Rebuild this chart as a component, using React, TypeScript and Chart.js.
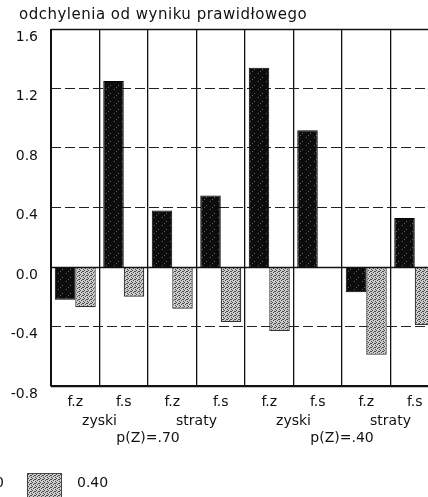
import React, { useEffect, useRef } from 'react';
import { Chart, registerables } from 'chart.js';

Chart.register(...registerables);

const TITLE = 'odchylenia od wyniku prawidłowego';
const categories = ['f.z', 'f.s', 'f.z', 'f.s', 'f.z', 'f.s', 'f.z', 'f.s'];
const outcomeLabels = ['zyski', 'straty', 'zyski', 'straty'];
const probabilityLabels = ['p(Z)=.70', 'p(Z)=.40'];
const seriesLabels = ['0.10', '0.40'];
const blackValues = [-0.22, 1.25, 0.38, 0.48, 1.34, 0.92, -0.17, 0.33];
const greyValues = [-0.27, -0.2, -0.28, -0.37, -0.43, 0, -0.59, -0.39];
const yMin = -0.8;
const yMax = 1.6;
const yStep = 0.4;

const FONT = '"DejaVu Sans", sans-serif';
const INK = '#111111';

function makePattern(ctx: CanvasRenderingContext2D, size: number, base: string, dot: string, cells: number[][]) {
  const c = document.createElement('canvas');
  c.width = size;
  c.height = size;
  const g = c.getContext('2d')!;
  g.fillStyle = base;
  g.fillRect(0, 0, size, size);
  g.fillStyle = dot;
  cells.forEach(([x, y]) => g.fillRect(x, y, 1, 1));
  return ctx.createPattern(c, 'repeat')!;
}

export default function App() {
  const ref = useRef<HTMLCanvasElement>(null);

  useEffect(() => {
    const canvas = ref.current!;
    const ctx = canvas.getContext('2d')!;
    const greyPattern = makePattern(ctx, 4, '#cdcdcd', '#4a4a4a', [[1, 0], [3, 1], [0, 2], [2, 3], [3, 3]]);
    const blackPattern = makePattern(ctx, 8, '#0c0c0c', '#5f5f5f', [[2, 1], [6, 5], [4, 7]]);

    const textPlugin = {
      id: 'customText',
      afterDatasetsDraw(chart: any) {
        const c = chart.ctx as CanvasRenderingContext2D;
        const x = chart.scales.x;
        const y = chart.scales.y;
        const area = chart.chartArea;
        c.save();
        c.strokeStyle = INK;
        c.setLineDash([]);
        c.lineWidth = 1.5;
        [0, yMax, yMin].forEach((v) => {
          const py = Math.round(y.getPixelForValue(v)) + 0.5;
          c.beginPath();
          c.moveTo(area.left, py);
          c.lineTo(area.right, py);
          c.stroke();
        });
        c.lineWidth = 2;
        c.beginPath();
        c.moveTo(area.left, area.top);
        c.lineTo(area.left, area.bottom);
        c.stroke();

        c.fillStyle = INK;
        c.font = `15px ${FONT}`;
        (c as any).letterSpacing = '0.5px';
        c.textAlign = 'left';
        c.textBaseline = 'middle';
        c.fillText(TITLE, 19, 15);
        (c as any).letterSpacing = '0px';

        c.font = `14px ${FONT}`;
        c.textAlign = 'center';
        outcomeLabels.forEach((lab, i) => {
          const cx = (x.getPixelForTick(2 * i) + x.getPixelForTick(2 * i + 1)) / 2;
          c.fillText(lab, cx, 421);
        });
        probabilityLabels.forEach((lab, j) => {
          const cx = (x.getPixelForTick(4 * j + 1) + x.getPixelForTick(4 * j + 2)) / 2;
          c.fillText(lab, cx, 438);
        });

        c.fillStyle = blackPattern;
        c.fillRect(-62, 473, 35, 30);
        c.fillStyle = INK;
        c.textAlign = 'right';
        c.fillText(seriesLabels[0], 4, 483);
        c.fillStyle = greyPattern;
        c.fillRect(27, 473, 35, 30);
        c.strokeStyle = '#444';
        c.lineWidth = 1;
        c.strokeRect(27.5, 473.5, 34, 30);
        c.fillStyle = INK;
        c.textAlign = 'left';
        c.fillText(seriesLabels[1], 77, 483);
        c.restore();
      },
    };

    const chart = new Chart(canvas, {
      type: 'bar',
      data: {
        labels: categories,
        datasets: [
          {
            label: seriesLabels[0],
            data: blackValues,
            backgroundColor: blackPattern,
            borderColor: '#000',
            borderWidth: 1,
            categoryPercentage: 0.845,
            barPercentage: 1,
          },
          {
            label: seriesLabels[1],
            data: greyValues,
            backgroundColor: greyPattern,
            borderColor: '#333',
            borderWidth: 1.2,
            categoryPercentage: 0.845,
            barPercentage: 1,
          },
        ],
      },
      options: {
        responsive: false,
        animation: false,
        devicePixelRatio: 1,
        layout: { padding: { top: 29, right: 21, left: 0, bottom: 0 } },
        plugins: {
          legend: { display: false },
          title: { display: false },
          tooltip: { enabled: false },
        },
        scales: {
          x: {
            grid: { offset: true, color: INK, lineWidth: 1.3, drawTicks: false },
            border: { display: true, color: INK, width: 1.5 },
            ticks: {
              color: INK,
              font: { family: FONT, size: 14 },
              padding: 8,
              autoSkip: false,
              maxRotation: 0,
            },
            afterFit(scale: any) {
              scale.height = 111;
            },
          },
          y: {
            min: yMin,
            max: yMax,
            grid: { color: '#222', lineWidth: 1, drawTicks: false },
            border: { display: false, dash: [10, 4] },
            ticks: {
              stepSize: yStep,
              color: INK,
              font: { family: FONT, size: 14 },
              padding: 13,
              labelOffset: 8,
              callback: (v: any) => (Math.abs(v) < 1e-9 ? '0.0' : Number(v).toFixed(1)),
            },
            afterFit(scale: any) {
              scale.width = 51;
            },
          },
        },
      },
      plugins: [textPlugin],
    } as any);

    return () => chart.destroy();
  }, []);

  return (
    <div
      style={{
        position: 'fixed',
        left: 0,
        top: 0,
        width: 428,
        height: 497,
        overflow: 'hidden',
        background: '#fff',
      }}
    >
      <canvas ref={ref} width={460} height={497} style={{ width: 460, height: 497, display: 'block' }} />
    </div>
  );
}
